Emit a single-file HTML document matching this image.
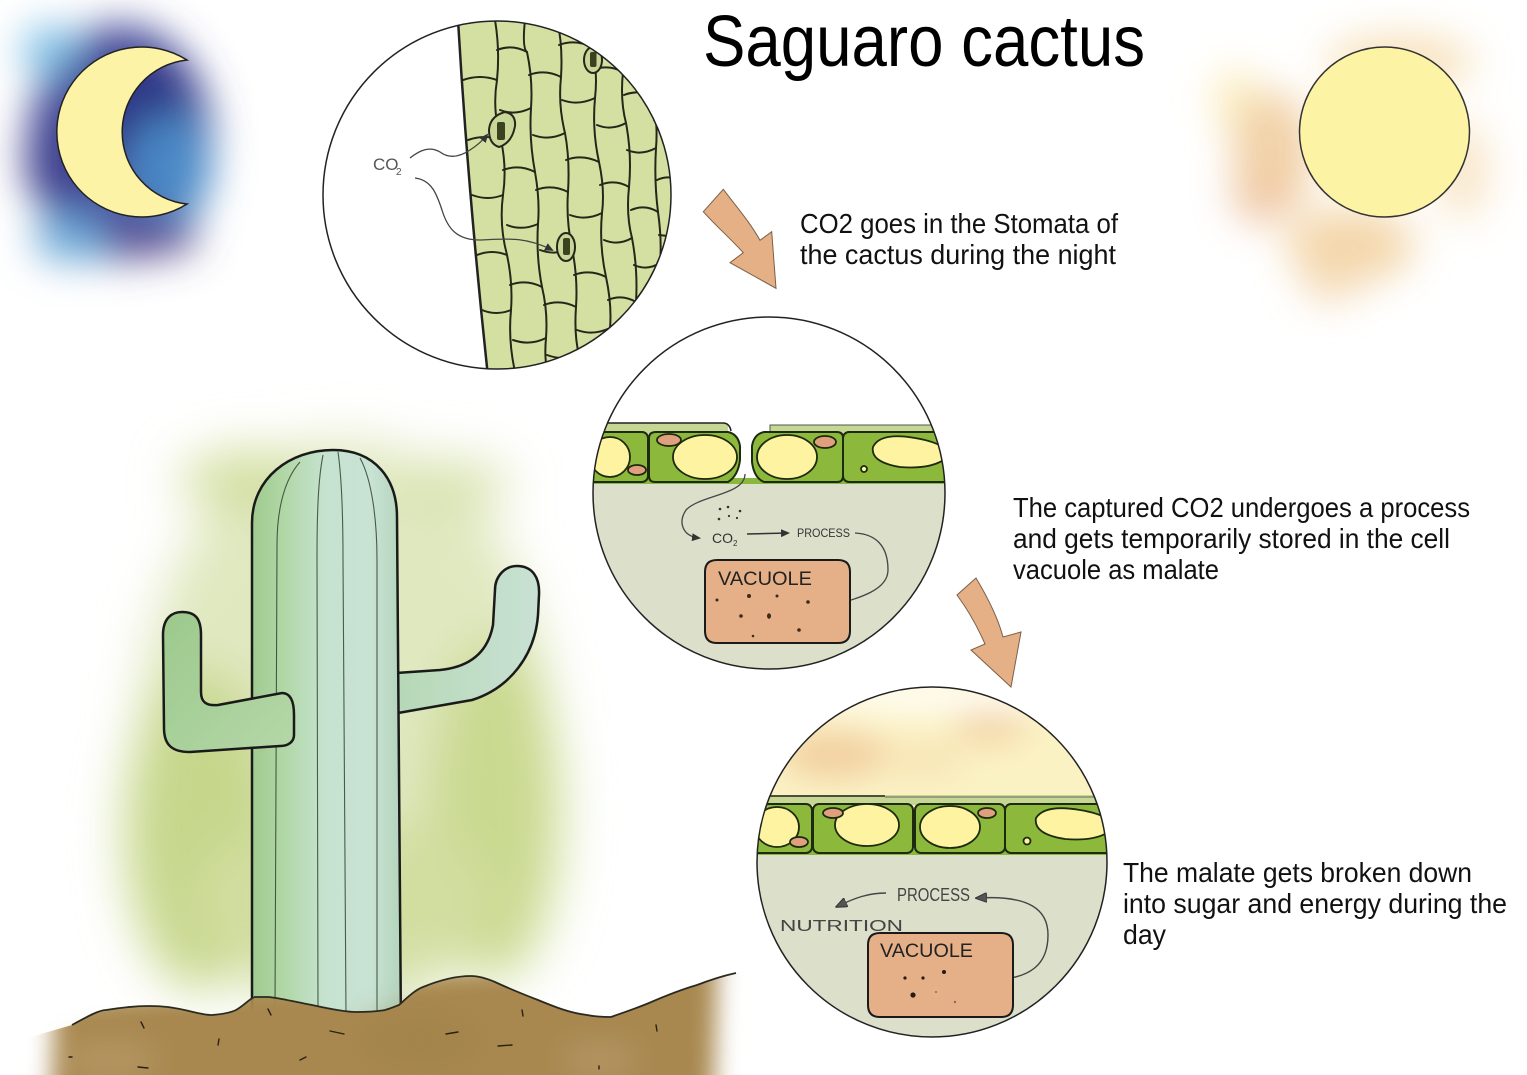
<!DOCTYPE html>
<html>
<head>
<meta charset="utf-8">
<style>
html,body{margin:0;padding:0;background:#fff;}
body{width:1527px;height:1075px;overflow:hidden;}
svg{display:block;}
</style>
</head>
<body>
<svg width="1527" height="1075" viewBox="0 0 1527 1075" xmlns="http://www.w3.org/2000/svg">
<defs>
  <filter id="b12" filterUnits="userSpaceOnUse" x="-200" y="-200" width="2000" height="1500"><feGaussianBlur stdDeviation="12"/></filter>
  <filter id="b16" filterUnits="userSpaceOnUse" x="-200" y="-200" width="2000" height="1500"><feGaussianBlur stdDeviation="16"/></filter>
  <filter id="b20" filterUnits="userSpaceOnUse" x="-200" y="-200" width="2000" height="1500"><feGaussianBlur stdDeviation="20"/></filter>
  <filter id="b25" filterUnits="userSpaceOnUse" x="-200" y="-200" width="2000" height="1500"><feGaussianBlur stdDeviation="25"/></filter>
  <clipPath id="c1"><circle cx="497" cy="195" r="174"/></clipPath>
  <clipPath id="g1"><path d="M458,18 L700,18 L700,372 L487.5,372 Q468,190 458,18 Z"/></clipPath>
  <clipPath id="c2"><circle cx="769" cy="493" r="176"/></clipPath>
  <clipPath id="c3"><circle cx="932" cy="862" r="175"/></clipPath>
  <mask id="sm" maskUnits="userSpaceOnUse" x="-100" y="800" width="1000" height="400">
    <path d="M55,1000 L718,950 L713,1120 L50,1120 Z" fill="#fff" filter="url(#b12)"/>
  </mask>
  <linearGradient id="trunk" x1="0" y1="0" x2="1" y2="0">
    <stop offset="0" stop-color="#9fca90"/>
    <stop offset="0.2" stop-color="#b0d6a4"/>
    <stop offset="0.5" stop-color="#c6e3d1"/>
    <stop offset="0.8" stop-color="#c8e2d4"/>
    <stop offset="1" stop-color="#b4d4bc"/>
  </linearGradient>
  <linearGradient id="larm" x1="0" y1="0" x2="1" y2="1">
    <stop offset="0" stop-color="#9cc98c"/>
    <stop offset="1" stop-color="#b5d7a8"/>
  </linearGradient>
  <linearGradient id="rarm" x1="0" y1="0" x2="1" y2="0">
    <stop offset="0" stop-color="#b6d8b6"/>
    <stop offset="1" stop-color="#c9e1d4"/>
  </linearGradient>
  <marker id="ah" markerWidth="9" markerHeight="8" refX="7" refY="4" orient="auto" markerUnits="userSpaceOnUse">
    <path d="M0,0 L9,4 L0,8 Z" fill="#333"/>
  </marker>
  <marker id="ah2" markerWidth="12" markerHeight="10" refX="9" refY="5" orient="auto" markerUnits="userSpaceOnUse">
    <path d="M0,0 L12,5 L0,10 Z" fill="#555" stroke="#333" stroke-width="1"/>
  </marker>
</defs>

<rect x="0" y="0" width="1527" height="1075" fill="#fff"/>

<!-- Moon background -->
<g filter="url(#b20)">
  <ellipse cx="120" cy="142" rx="92" ry="118" fill="#4a4f9c"/>
  <ellipse cx="50" cy="50" rx="28" ry="25" fill="#7ec0e6"/>
  <ellipse cx="140" cy="110" rx="55" ry="55" fill="#2f3584"/>
  <ellipse cx="170" cy="168" rx="42" ry="55" fill="#4a88c6"/>
  <ellipse cx="72" cy="238" rx="38" ry="24" fill="#6aa8d8"/>
  <ellipse cx="150" cy="236" rx="48" ry="20" fill="#5a4e90"/>
  <ellipse cx="55" cy="160" rx="30" ry="50" fill="#3d3f8e"/>
</g>
<path d="M187,60 A85,85 0 1,0 187,204 A72.4,72.4 0 0,1 187,60 Z" fill="#fdf3a6" stroke="#222" stroke-width="1.5"/>

<!-- Sun background -->
<g filter="url(#b20)" opacity="0.9">
  <ellipse cx="1400" cy="62" rx="75" ry="28" fill="#f7dfb6"/>
  <ellipse cx="1235" cy="100" rx="22" ry="32" fill="#fbecb8"/>
  <ellipse cx="1272" cy="155" rx="40" ry="65" fill="#f0cc9e"/>
  <ellipse cx="1260" cy="200" rx="28" ry="22" fill="#edc09a"/>
  <ellipse cx="1350" cy="245" rx="65" ry="38" fill="#f3d3a3"/>
  <ellipse cx="1330" cy="288" rx="28" ry="14" fill="#f4d8b2"/>
  <ellipse cx="1462" cy="170" rx="28" ry="50" fill="#f8e4c4"/>
</g>
<circle cx="1384.5" cy="132" r="85" fill="#fdf3a5" stroke="#333" stroke-width="1.5"/>

<!-- Title -->
<text x="703" y="66" font-family="Liberation Sans, sans-serif" font-size="72" fill="#000" textLength="442" lengthAdjust="spacingAndGlyphs">Saguaro cactus</text>

<!-- Circle 1: stomata -->
<circle cx="497" cy="195" r="174" fill="#fff"/>
<g clip-path="url(#c1)">
  <g clip-path="url(#g1)">
    <rect x="440" y="10" width="260" height="370" fill="#d4e0a2"/>
    <g fill="none" stroke="#26261a" stroke-width="2" stroke-linecap="round" stroke-linejoin="round">
      <path d="M495,20 Q500,50 497,80 Q492,110 501,140 Q507,168 503,195 Q499,225 507,255 Q513,283 511,310 Q508,340 515,372"/>
      <path d="M525,20 Q522,48 527,52 Q533,80 531,108 Q529,140 535,172 Q540,200 538,224 Q536,256 542,287 Q548,312 546,338 Q544,360 548,372"/>
      <path d="M557,20 Q563,45 561,77 Q558,105 565,133 Q570,160 568,192 Q566,220 572,248 Q578,278 576,307 Q574,335 579,355 L580,372"/>
      <path d="M590,20 Q588,35 592,47 Q598,72 595,98 Q592,130 599,162 Q605,190 602,213 Q599,245 606,277 Q612,305 610,328 Q608,352 612,372"/>
      <path d="M620,20 Q626,45 623,72 Q620,100 626,123 Q632,155 629,187 Q626,215 632,238 Q638,270 636,302 Q634,335 640,372"/>
      <path d="M650,20 Q648,60 653,97 Q658,125 656,148 Q654,180 658,212 Q662,240 660,263 Q658,295 663,322 L665,372"/>
      <path d="M463,80 Q480,74 497,80"/>
      <path d="M468,140 Q485,134 501,140"/>
      <path d="M472,195 Q488,201 503,195"/>
      <path d="M477,255 Q492,249 507,255"/>
      <path d="M482,310 Q496,316 511,310"/>
      <path d="M497,50 Q512,44 527,52"/>
      <path d="M500,110 Q515,116 531,108"/>
      <path d="M503,170 Q519,164 535,172"/>
      <path d="M507,225 Q522,231 538,224"/>
      <path d="M510,285 Q526,279 542,287"/>
      <path d="M513,340 Q530,346 546,338"/>
      <path d="M529,75 Q545,69 561,77"/>
      <path d="M533,135 Q549,141 565,133"/>
      <path d="M536,190 Q552,184 568,192"/>
      <path d="M540,250 Q556,256 572,248"/>
      <path d="M544,305 Q560,299 576,307"/>
      <path d="M547,355 Q563,361 579,355"/>
      <path d="M559,45 Q575,39 592,47"/>
      <path d="M562,100 Q578,106 595,98"/>
      <path d="M566,160 Q582,154 599,162"/>
      <path d="M570,215 Q586,221 602,213"/>
      <path d="M574,275 Q590,269 606,277"/>
      <path d="M577,330 Q593,336 610,328"/>
      <path d="M593,70 Q608,64 623,72"/>
      <path d="M597,125 Q611,131 626,123"/>
      <path d="M600,185 Q615,179 629,187"/>
      <path d="M604,240 Q618,246 632,238"/>
      <path d="M608,300 Q622,294 636,302"/>
      <path d="M624,95 Q639,89 653,97"/>
      <path d="M627,150 Q641,156 656,148"/>
      <path d="M631,210 Q645,204 658,212"/>
      <path d="M634,265 Q647,271 660,263"/>
      <path d="M637,320 Q650,314 663,322"/>
      <path d="M652,60 L685,57"/>
      <path d="M654,120 Q668,126 685,118"/>
      <path d="M657,180 Q670,174 685,182"/>
      <path d="M659,235 L685,238"/>
      <path d="M662,290 L685,287"/>
    </g>
    <!-- stomata -->
    <path d="M489,130 Q490,116 505,112 Q516,114 515,126 Q512,143 499,147 Q489,144 489,130 Z" fill="#c8d698" stroke="#26261a" stroke-width="2"/>
    <rect x="497" y="122" width="8" height="18" rx="2" fill="#3b4220"/>
    <ellipse cx="593" cy="60" rx="9" ry="13" fill="#c8d698" stroke="#26261a" stroke-width="2"/>
    <rect x="590" y="52" width="6.5" height="15" rx="2" fill="#3b4220"/>
    <ellipse cx="566" cy="247" rx="9" ry="14" fill="#c8d698" stroke="#26261a" stroke-width="2"/>
    <rect x="563" y="238" width="7" height="17" rx="2" fill="#3b4220"/>
  </g>
  <path d="M458,20 Q468,190 487.5,372" fill="none" stroke="#222" stroke-width="2.5"/>
</g>
<text x="373" y="170" font-family="Liberation Sans, sans-serif" font-size="17" fill="#555">CO</text>
<text x="396" y="175" font-family="Liberation Sans, sans-serif" font-size="10" fill="#555">2</text>
<path d="M410,158 C420,150 430,146 440,152 C448,158 458,158 470,150 C478,145 483,140 487,135" fill="none" stroke="#444" stroke-width="1.3" marker-end="url(#ah)"/>
<path d="M415,178 C432,180 437,195 442,210 C448,230 458,240 480,240 C505,239 525,236 552,250" fill="none" stroke="#444" stroke-width="1.3" marker-end="url(#ah)"/>
<circle cx="497" cy="195" r="174" fill="none" stroke="#222" stroke-width="1.5"/>

<!-- Arrow 1 -->
<path d="M723.3,189.3 C735,205 750,222 760,240.3 L771.7,231.7 L776,288.3 L730,262.7 L743.3,252.7 C730,238 715,225 703.3,211.7 Z" fill="#e5b086" stroke="#7a6048" stroke-width="1"/>

<!-- Text 1 -->
<g font-family="Liberation Sans, sans-serif" font-size="28" fill="#111">
  <text x="800" y="233" textLength="318" lengthAdjust="spacingAndGlyphs">CO2 goes in the Stomata of</text>
  <text x="800" y="264" textLength="316" lengthAdjust="spacingAndGlyphs">the cactus during the night</text>
</g>

<!-- Circle 2 -->
<circle cx="769" cy="493" r="176" fill="#fff"/>
<g clip-path="url(#c2)">
  <rect x="590" y="480" width="360" height="200" fill="#dcdfca"/>
  <rect x="585" y="423" width="143" height="11" fill="#c5d792"/>
  <path d="M585,423 L724,423 Q730,424 731,431" fill="none" stroke="#222" stroke-width="1.5"/>
  <rect x="770" y="425" width="180" height="9" fill="#c5d792"/>
  <path d="M770,431 L770,425 L950,425" fill="none" stroke="#555" stroke-width="1"/>
  <rect x="585" y="478" width="370" height="6" fill="#8ab83c"/>
  <g stroke="#1e2a10" stroke-width="2" fill="#8cb83c">
    <rect x="575" y="432" width="73" height="50" rx="6"/>
    <path d="M649,438 Q649,432 656,432 L728,432 Q738,434 740,446 L740,460 Q738,476 728,482 L655,482 Q649,482 649,476 Z"/>
    <path d="M752,446 Q754,434 764,432 L837,432 Q843,432 843,438 L843,476 Q843,482 837,482 L764,482 Q754,478 752,462 Z"/>
    <rect x="843" y="432" width="115" height="50" rx="6"/>
  </g>
  <g stroke="#1e2a10" stroke-width="1.8">
    <ellipse cx="610" cy="457" rx="20" ry="20" fill="#fdf3a0"/>
    <ellipse cx="637" cy="470" rx="9" ry="5" fill="#e0a07e"/>
    <ellipse cx="705" cy="457" rx="32" ry="22" fill="#fdf3a0"/>
    <ellipse cx="669" cy="440" rx="12" ry="6" fill="#e0a07e"/>
    <ellipse cx="787" cy="457" rx="30" ry="22" fill="#fdf3a0"/>
    <ellipse cx="825" cy="442" rx="11" ry="6" fill="#e0a07e"/>
    <path d="M873,447 Q880,432 915,438 Q945,443 950,455 Q935,470 900,467 Q870,462 873,447 Z" fill="#fdf3a0"/>
    <circle cx="864" cy="469" r="3" fill="#fdf3a0"/>
  </g>
</g>
<g fill="#333">
  <circle cx="720" cy="509" r="1.3"/><circle cx="728" cy="507" r="1.3"/><circle cx="740" cy="511" r="1.3"/>
  <circle cx="719" cy="519" r="1.3"/><circle cx="729" cy="516" r="1.1"/><circle cx="737" cy="518" r="1.1"/>
</g>
<path d="M745,474 C745,495 700,495 686,510 C678,522 682,536 699,538" fill="none" stroke="#444" stroke-width="1.3" marker-end="url(#ah)"/>
<text x="712" y="543" font-family="Liberation Sans, sans-serif" font-size="14" fill="#333">CO</text>
<text x="733" y="546" font-family="Liberation Sans, sans-serif" font-size="8" fill="#333">2</text>
<path d="M747,534 L788,533" fill="none" stroke="#333" stroke-width="1.5" marker-end="url(#ah)"/>
<text x="797" y="537" font-family="Liberation Sans, sans-serif" font-size="12" fill="#333" textLength="53" lengthAdjust="spacingAndGlyphs">PROCESS</text>
<path d="M855,533 C875,534 888,545 888,570 C888,590 860,598 830,606" fill="none" stroke="#444" stroke-width="1.3" marker-end="url(#ah)"/>
<path d="M705,572 Q705,560 717,560 L838,560 Q850,560 850,572 L850,631 Q850,643 838,643 L717,643 Q705,643 705,631 Z" fill="#e5b088" stroke="#1a1a1a" stroke-width="2"/>
<text x="718" y="585" font-family="Liberation Sans, sans-serif" font-size="19" fill="#222" textLength="94" lengthAdjust="spacingAndGlyphs">VACUOLE</text>
<g fill="#3a2a1a">
  <circle cx="717" cy="600" r="1.5"/><circle cx="749" cy="596" r="2"/><circle cx="777" cy="596" r="1.5"/>
  <circle cx="808" cy="602" r="1.8"/><circle cx="741" cy="616" r="1.8"/><ellipse cx="769" cy="616" rx="2" ry="2.8"/>
  <circle cx="753" cy="636" r="1.3"/><circle cx="799" cy="630" r="1.8"/>
</g>
<circle cx="769" cy="493" r="176" fill="none" stroke="#222" stroke-width="1.5"/>

<!-- Arrow 2 -->
<path d="M976,578 C988,598 998,618 1003,637 L1021,632 L1011,687 L971,650 L985,644 C978,628 968,610 957,595 Z" fill="#e5b086" stroke="#7a6048" stroke-width="1"/>

<!-- Text 2 -->
<g font-family="Liberation Sans, sans-serif" font-size="28" fill="#111">
  <text x="1013" y="517" textLength="457" lengthAdjust="spacingAndGlyphs">The captured CO2 undergoes a process</text>
  <text x="1013" y="548" textLength="437" lengthAdjust="spacingAndGlyphs">and gets temporarily stored in the cell</text>
  <text x="1013" y="579" textLength="206" lengthAdjust="spacingAndGlyphs">vacuole as malate</text>
</g>

<!-- Circle 3 -->
<circle cx="932" cy="862" r="175" fill="#fbf2c4"/>
<g clip-path="url(#c3)">
  <g filter="url(#b16)">
    <ellipse cx="930" cy="695" rx="130" ry="18" fill="#fffdf4"/>
    <ellipse cx="835" cy="755" rx="55" ry="24" fill="#f2d0a2"/>
    <ellipse cx="990" cy="727" rx="38" ry="17" fill="#f3d4a6"/>
    <ellipse cx="925" cy="760" rx="40" ry="18" fill="#f7e4b6"/>
  </g>
  <rect x="750" y="851" width="370" height="200" fill="#dcdfca"/>
  <rect x="750" y="795" width="370" height="10" fill="#c5d792"/>
  <path d="M755,796 L885,796" stroke="#222" stroke-width="1.5"/>
  <path d="M885,797 L1110,797" stroke="#666" stroke-width="1"/>
  <rect x="750" y="849" width="370" height="6" fill="#8ab83c"/>
  <g stroke="#1e2a10" stroke-width="2" fill="#8cb83c">
    <rect x="735" y="804" width="77" height="49" rx="6"/>
    <rect x="813" y="804" width="100" height="49" rx="6"/>
    <rect x="915" y="804" width="90" height="49" rx="6"/>
    <rect x="1005" y="804" width="120" height="49" rx="6"/>
  </g>
  <g stroke="#1e2a10" stroke-width="1.8">
    <ellipse cx="777" cy="827" rx="22" ry="20" fill="#fdf3a0"/>
    <ellipse cx="799" cy="842" rx="9" ry="5" fill="#e0a07e"/>
    <ellipse cx="867" cy="825" rx="32" ry="21" fill="#fdf3a0"/>
    <ellipse cx="833" cy="813" rx="10" ry="5" fill="#e0a07e"/>
    <ellipse cx="950" cy="827" rx="30" ry="21" fill="#fdf3a0"/>
    <ellipse cx="987" cy="813" rx="9" ry="5" fill="#e0a07e"/>
    <path d="M1036,818 Q1045,804 1080,810 Q1110,815 1115,827 Q1100,842 1065,839 Q1033,834 1036,818 Z" fill="#fdf3a0"/>
    <circle cx="1027" cy="841" r="3.5" fill="#fdf3a0"/>
  </g>
</g>
<text x="897" y="901" font-family="Liberation Sans, sans-serif" font-size="18" fill="#444" textLength="73" lengthAdjust="spacingAndGlyphs">PROCESS</text>
<path d="M886,893 C868,893 855,898 838,906" fill="none" stroke="#444" stroke-width="1.4" marker-end="url(#ah2)"/>
<text x="780" y="931" font-family="Liberation Sans, sans-serif" font-size="16" fill="#444" textLength="123" lengthAdjust="spacingAndGlyphs">NUTRITION</text>
<path d="M995,980 C1030,978 1048,965 1048,935 C1048,910 1030,895 978,898" fill="none" stroke="#444" stroke-width="1.4" marker-end="url(#ah2)"/>
<path d="M868,945 Q868,933 880,933 L1001,933 Q1013,933 1013,945 L1013,1005 Q1013,1017 1001,1017 L880,1017 Q868,1017 868,1005 Z" fill="#e5b088" stroke="#1a1a1a" stroke-width="2"/>
<text x="880" y="957" font-family="Liberation Sans, sans-serif" font-size="19" fill="#222" textLength="93" lengthAdjust="spacingAndGlyphs">VACUOLE</text>
<g fill="#2a1a10">
  <circle cx="905" cy="978" r="1.6"/><circle cx="923" cy="978" r="1.6"/><circle cx="944" cy="972" r="2"/>
  <circle cx="913" cy="995" r="2.6"/><circle cx="936" cy="992" r="1" fill="#8a6a50"/><circle cx="955" cy="1002" r="1.2" fill="#8a6a50"/>
</g>
<circle cx="932" cy="862" r="175" fill="none" stroke="#222" stroke-width="1.5"/>

<!-- Text 3 -->
<g font-family="Liberation Sans, sans-serif" font-size="28" fill="#111">
  <text x="1123" y="882" textLength="349" lengthAdjust="spacingAndGlyphs">The malate gets broken down</text>
  <text x="1123" y="913" textLength="384" lengthAdjust="spacingAndGlyphs">into sugar and energy during the</text>
  <text x="1123" y="944" textLength="43" lengthAdjust="spacingAndGlyphs">day</text>
</g>

<!-- Cactus background glow -->
<g filter="url(#b25)">
  <ellipse cx="345" cy="730" rx="205" ry="290" fill="#e0e8c0"/>
  <ellipse cx="200" cy="830" rx="75" ry="160" fill="#c6d78b"/>
  <ellipse cx="495" cy="810" rx="65" ry="170" fill="#c9d98f"/>
  <ellipse cx="250" cy="480" rx="70" ry="30" fill="#d2de9f"/>
  <ellipse cx="450" cy="485" rx="60" ry="25" fill="#d8e2ae"/>
  <ellipse cx="345" cy="900" rx="150" ry="80" fill="#d2dea0"/>
</g>

<!-- Cactus -->
<path d="M396,673 L440,670 C470,667 488,652 493,625 L495,590 C495,576 505,566 517,566 C532,566 540,577 539,595 L538,615 C535,655 510,688 472,700 L398,713 Z" fill="url(#rarm)" stroke="#1a1a1a" stroke-width="2.5" stroke-linejoin="round"/>
<path d="M252,1030 L252,523 C252,478 290,450 333,450 C376,450 397,480 397,517 L401,1030 Z" fill="url(#trunk)" stroke="#1a1a1a" stroke-width="2.5"/>
<g fill="none" stroke="#2a3a2a" stroke-width="1.1" opacity="0.8">
  <path d="M300,462 C284,480 277,510 277,545 L275,1010"/>
  <path d="M323,455 C318,480 317,515 317,560 L318,1015"/>
  <path d="M338,452 C342,480 343,520 343,560 L346,1015"/>
  <path d="M360,458 C372,480 377,520 377,560 L377,1015"/>
</g>
<path d="M163,635 C163,618 172,612 182,612 C195,612 201,618 201,635 L201,692 C201,702 206,706 218,705 L282,693 C290,693 294,700 294,715 L294,735 C294,742 288,746 280,746 L190,752 C172,752 164,745 164,728 Z" fill="url(#larm)" stroke="#1a1a1a" stroke-width="2.5" stroke-linejoin="round"/>

<!-- Soil -->
<g mask="url(#sm)">
  <path d="M20,1075 L20,1040 L72,1025 C90,1015 100,1010 106,1010 C130,1006 150,1005 168,1007 C190,1010 200,1015 212,1015 C225,1014 232,1012 236,1010 C245,1005 250,998 255,997 L269,997 C285,999 300,1003 312,1005 C330,1009 345,1012 356,1012 C370,1012 380,1011 385,1010 C392,1008 396,1006 399,1005 C408,997 415,990 423,987 C440,980 455,976 471,976 C480,976 488,979 495,982 C510,989 525,995 538,1000 C555,1007 570,1013 587,1015 C597,1017 605,1017 611,1017 C625,1012 637,1008 649,1003 C665,996 680,990 697,985 C710,980 722,976 736,973 L780,955 L780,1075 Z" fill="#a8884f"/>
  <g filter="url(#b16)" opacity="0.8">
    <ellipse cx="110" cy="1060" rx="50" ry="20" fill="#b89a68"/>
    <ellipse cx="600" cy="1060" rx="40" ry="18" fill="#b8996a"/>
    <ellipse cx="420" cy="1040" rx="60" ry="25" fill="#a2834a"/>
  </g>
</g>
<path d="M72,1025 C90,1015 100,1010 106,1010 C130,1006 150,1005 168,1007 C190,1010 200,1015 212,1015 C225,1014 232,1012 236,1010 C245,1005 250,998 255,997 L269,997 C285,999 300,1003 312,1005 C330,1009 345,1012 356,1012 C370,1012 380,1011 385,1010 C392,1008 396,1006 399,1005 C408,997 415,990 423,987 C440,980 455,976 471,976 C480,976 488,979 495,982 C510,989 525,995 538,1000 C555,1007 570,1013 587,1015 C597,1017 605,1017 611,1017 C625,1012 637,1008 649,1003 C665,996 680,990 697,985 C710,980 722,976 736,973" fill="none" stroke="#2a2a20" stroke-width="1.8"/>
<g stroke="#2a2018" stroke-width="1.4" stroke-linecap="round" fill="none">
  <path d="M141,1022 L144,1028"/><path d="M268,1009 L271,1015"/><path d="M330,1031 L344,1034"/>
  <path d="M446,1034 L458,1032"/><path d="M522,1010 L523,1016"/><path d="M498,1046 L512,1045"/>
  <path d="M656,1025 L657,1031"/><path d="M219,1039 L218,1045"/><path d="M69,1057 L72,1057"/>
  <path d="M138,1067 L148,1068"/><path d="M300,1060 L306,1057"/><path d="M599,1066 L599,1069"/>
</g>
</svg>
</body>
</html>
